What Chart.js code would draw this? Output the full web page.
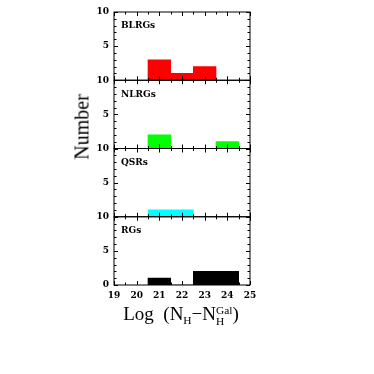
<!DOCTYPE html>
<html>
<head>
<meta charset="utf-8">
<script src="https://cdn.jsdelivr.net/npm/chart.js@4"></script>
<style>
  body { margin: 0; background: #fff; }
  #wrap { position: relative; width: 374px; height: 374px; }
  canvas { position: absolute; left: 0; top: 0; }
  .lbl { position: absolute; font-family: "Liberation Serif", serif; font-size: 19px; color: #000; white-space: nowrap; }
  #ytitle { left: 82px; top: 127px; font-size: 20px; transform: translate(-50%, -50%) rotate(-90deg); }
  #xtitle { left: 181px; top: 315px; transform: translate(-50%, -50%); }
  .sb { font-size: 0.6em; vertical-align: -0.35em; }
  .ss { display: inline-block; font-size: 0.6em; line-height: 0.95; vertical-align: -0.45em; }
  .ss span { display: block; }
</style>
</head>
<body>
<div id="wrap">
  <canvas id="myChart" width="374" height="374"></canvas>
  <div class="lbl" id="ytitle">Number</div>
  <div class="lbl" id="xtitle">Log&nbsp;&nbsp;(N<span class="sb">H</span>−N<span class="ss"><span>Gal</span><span>H</span></span>)</div>
</div>
<script>
// bins of width 1, centred on these log NH values
const binCenters = [21, 22, 23, 24];
const blrgs = [3, 1, 2, 0];
const nlrgs = [2, 0, 0, 1];
const qsrs = [1, 1, 0, 0];
const rgs = [1, 0, 2, 2];
const panelNames = ["BLRGs", "NLRGs", "QSRs", "RGs"];
const panelColors = ["#ff0000", "#00ff00", "#00ffff", "#000000"];
const panelCounts = [blrgs, nlrgs, qsrs, rgs];

const tickFont = { family: "DejaVu Serif", size: 9, weight: "bold" };
const axisIds = ["y1", "y2", "y3", "y4"];

const datasets = panelCounts.map((counts, i) => ({
  label: panelNames[i],
  data: binCenters.map((c, j) => ({ x: c, y: counts[j] })),
  backgroundColor: panelColors[i],
  borderWidth: 0,
  barPercentage: 1,
  categoryPercentage: 1,
  grouped: false,
  xAxisID: "x",
  yAxisID: axisIds[i]
}));

const scales = {
  x: {
    type: "linear",
    min: 19,
    max: 25,
    offset: false,
    grid: { display: false, drawTicks: false },
    border: { display: false },
    ticks: { stepSize: 1, font: tickFont, color: "#000", padding: 5, maxRotation: 0 },
    afterFit: (s) => { s.height = 20; }
  }
};
// stacked left axes are laid out bottom-up, so add the bottom panel first
for (let i = axisIds.length - 1; i >= 0; i--) {
  scales[axisIds[i]] = {
    type: "linear",
    position: "left",
    stack: "panels",
    stackWeight: 1,
    min: 0,
    max: 10,
    grid: { display: false, drawTicks: false },
    border: { display: false },
    ticks: {
      stepSize: 5,
      font: tickFont,
      color: "#000",
      padding: 5,
      callback: (v) => (v === 0 && i < 3 ? "" : v)
    },
    afterFit: (s) => { s.width = 20; }
  };
}

// frame each panel and put PGPLOT-style inward ticks on all four sides
const framePlugin = {
  id: "frames",
  afterDatasetsDraw(chart) {
    const ctx = chart.ctx;
    const xs = chart.scales.x;
    ctx.save();
    ctx.strokeStyle = "#000";
    ctx.lineWidth = 1;
    axisIds.forEach((id, i) => {
      const ys = chart.scales[id];
      ctx.strokeRect(xs.left, ys.top, xs.right - xs.left, ys.bottom - ys.top);
      ctx.beginPath();
      for (let v = 19; v <= 25; v += 0.5) {
        const px = Math.round(xs.getPixelForValue(v)) + 0.5;
        const len = v % 1 === 0 ? 4 : 2.5;
        ctx.moveTo(px, ys.top); ctx.lineTo(px, ys.top + len);
        ctx.moveTo(px, ys.bottom); ctx.lineTo(px, ys.bottom - len);
      }
      for (let v = 0; v <= 10; v++) {
        const py = Math.round(ys.getPixelForValue(v)) + 0.5;
        const len = v % 5 === 0 ? 4 : 2.5;
        ctx.moveTo(xs.left, py); ctx.lineTo(xs.left + len, py);
        ctx.moveTo(xs.right, py); ctx.lineTo(xs.right - len, py);
      }
      ctx.stroke();
      ctx.fillStyle = "#000";
      ctx.font = "bold 9px 'DejaVu Serif'";
      ctx.textBaseline = "middle";
      ctx.textAlign = "left";
      ctx.fillText(panelNames[i], xs.left + 7, ys.top + 14);
    });
    ctx.restore();
  }
};

new Chart(document.getElementById("myChart").getContext("2d"), {
  type: "bar",
  data: { datasets: datasets },
  options: {
    responsive: false,
    animation: false,
    layout: { padding: { left: 94, right: 124, top: 12, bottom: 69 } },
    plugins: { legend: { display: false }, tooltip: { enabled: false } },
    scales: scales
  },
  plugins: [framePlugin]
});
</script>
</body>
</html>
